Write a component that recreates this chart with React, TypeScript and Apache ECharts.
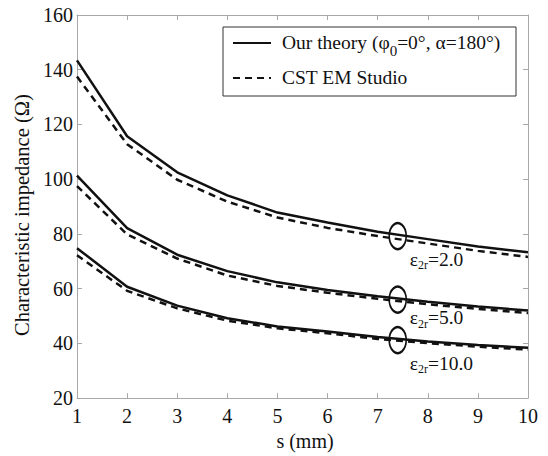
import React, { useEffect, useRef } from "react";
import * as echarts from "echarts";

const sValues = [1, 2, 3, 4, 5, 6, 7, 8, 9, 10];
const theoryEps2 = [143.4, 115.7, 102.5, 94.1, 87.8, 84.2, 80.8, 78.1, 75.4, 73.3];
const cstEps2 = [137.5, 112.8, 99.8, 91.8, 86.0, 82.2, 79.2, 76.5, 73.8, 71.6];
const theoryEps5 = [101.3, 82.1, 72.4, 66.4, 62.3, 59.5, 57.2, 55.2, 53.5, 52.0];
const cstEps5 = [97.5, 79.8, 71.0, 64.8, 61.0, 58.5, 56.3, 54.3, 52.6, 51.1];
const theoryEps10 = [74.8, 60.7, 53.8, 49.2, 46.2, 44.3, 42.3, 40.7, 39.4, 38.4];
const cstEps10 = [72.2, 59.2, 52.8, 48.3, 45.5, 43.7, 41.6, 40.1, 38.8, 37.7];

const markerX = 7.4;
const markerY = [79.2, 56.0, 41.2];
const markerLabels = ["2.0", "5.0", "10.0"];
const markerOffsets = [
  [12, 24],
  [12, 19],
  [12, 24],
];

const THEORY = "Our theory";
const CST = "CST EM Studio";
const FONT = "Liberation Serif";

const pairs = (ys: number[]) => sValues.map((x, i) => [x, ys[i]]);

export default function App() {
  const ref = useRef<HTMLDivElement>(null);
  useEffect(() => {
    if (!ref.current) return;
    document.body.style.margin = "0";
    const chart = echarts.init(ref.current, undefined, { renderer: "svg" });
    const axisGray = "#a8a8a8";
    const solid = (name: string, ys: number[]) => ({
      type: "line",
      name,
      data: pairs(ys),
      symbol: "none",
      showSymbol: false,
      lineStyle: { color: "#111", width: 2.5, type: "solid" },
      itemStyle: { color: "#111" },
      z: 3,
    });
    const dashed = (name: string, ys: number[]) => ({
      type: "line",
      name,
      data: pairs(ys),
      symbol: "none",
      showSymbol: false,
      lineStyle: { color: "#111", width: 2.5, type: [7, 5] },
      itemStyle: { color: "#111" },
      z: 2,
    });
    const axisCommon = {
      type: "value",
      axisLine: { show: true, lineStyle: { color: axisGray, width: 1 } },
      axisTick: { show: true, inside: true, length: 5, lineStyle: { color: axisGray } },
      splitLine: { show: false },
    };
    chart.setOption({
      animation: false,
      backgroundColor: "#fff",
      textStyle: { fontFamily: FONT },
      grid: { left: 77, right: 20, top: 15, bottom: 53, containLabel: false },
      legend: {
        orient: "vertical",
        left: 232,
        top: 32,
        itemWidth: 38,
        itemHeight: 14,
        itemGap: 9,
        padding: 0,
        itemStyle: { opacity: 0 },
        data: [THEORY, CST],
        formatter: (n: string) =>
          n === THEORY ? "{a|Our theory (φ}{s|0}{a|=0°, α=180°)}" : "{a|CST EM Studio}",
        textStyle: {
          fontFamily: FONT,
          color: "#111",
          fontSize: 19.5,
          padding: [4, 0, 0, 6],
          rich: {
            a: { fontFamily: FONT, fontSize: 19.5, color: "#111", verticalAlign: "top", lineHeight: 26 },
            s: { fontFamily: FONT, fontSize: 15, color: "#111", verticalAlign: "bottom", lineHeight: 15 },
          },
        },
      },
      graphic: [
        {
          type: "rect",
          shape: { x: 223, y: 27, width: 293, height: 69 },
          style: { fill: "none", stroke: "#333", lineWidth: 1 },
          z: 10,
        },
      ],
      xAxis: [
        {
          ...axisCommon,
          min: 1,
          max: 10,
          interval: 1,
          name: "s (mm)",
          nameLocation: "middle",
          nameGap: 32,
          nameTextStyle: { fontFamily: FONT, fontSize: 20, color: "#111", padding: [0, 0, 0, 5] },
          axisLabel: { fontFamily: FONT, fontSize: 20, color: "#111", margin: 8 },
        },
        {
          ...axisCommon,
          position: "top",
          min: 1,
          max: 10,
          interval: 1,
          axisLabel: { show: false },
        },
      ],
      yAxis: [
        {
          ...axisCommon,
          min: 20,
          max: 160,
          interval: 20,
          name: "Characteristic impedance (Ω)",
          nameLocation: "middle",
          nameGap: 42,
          nameTextStyle: { fontFamily: FONT, fontSize: 20.5, color: "#111", padding: [0, 17, 0, 0] },
          axisLabel: { fontFamily: FONT, fontSize: 20, color: "#111", margin: 4 },
        },
        {
          ...axisCommon,
          position: "right",
          min: 20,
          max: 160,
          interval: 20,
          axisLabel: { show: false },
        },
      ],
      series: [
        solid(THEORY, theoryEps2),
        dashed(CST, cstEps2),
        solid(THEORY, theoryEps5),
        dashed(CST, cstEps5),
        solid(THEORY, theoryEps10),
        dashed(CST, cstEps10),
        {
          type: "scatter",
          name: "markers",
          symbol: "circle",
          symbolSize: [17, 26],
          itemStyle: { color: "rgba(0,0,0,0)", borderColor: "#111", borderWidth: 2, opacity: 1 },
          z: 5,
          data: markerY.map((y, i) => ({
            value: [markerX, y],
            label: {
              show: true,
              position: "inside",
              align: "left",
              verticalAlign: "middle",
              offset: markerOffsets[i],
              color: "#111",
              opacity: 1,
              formatter: `{e|ε}{s|2r}{e|=${markerLabels[i]}}`,
              rich: {
                e: { fontFamily: FONT, fontSize: 19.5, color: "#111", verticalAlign: "top", lineHeight: 22 },
                s: { fontFamily: FONT, fontSize: 12, color: "#111", verticalAlign: "bottom", lineHeight: 12 },
              },
            },
          })),
        },
      ],
    });
    return () => chart.dispose();
  }, []);
  return <div ref={ref} style={{ width: 548, height: 456 }} />;
}
